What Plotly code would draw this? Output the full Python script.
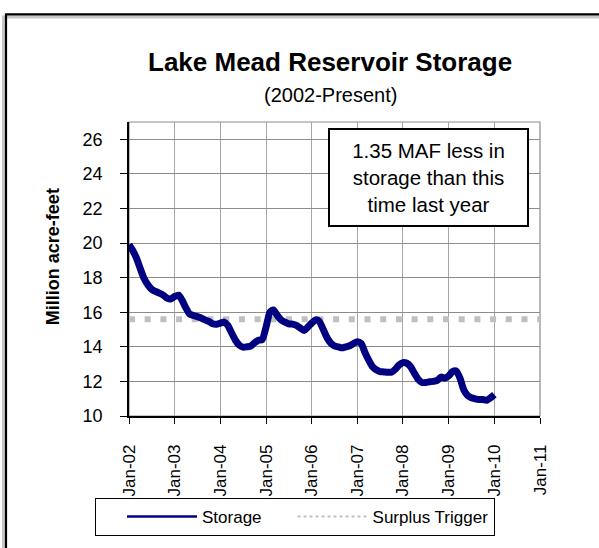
import plotly.graph_objects as go

# ---------------- data ----------------
years = [2002, 2003, 2004, 2005, 2006, 2007, 2008, 2009]
storage_2002 = [19.90, 19.56, 19.14, 18.53, 17.96, 17.58, 17.33, 17.20, 17.10, 16.99, 16.82, 16.76]
storage_2003 = [16.91, 16.99, 16.70, 16.25, 15.90, 15.81, 15.75, 15.67, 15.56, 15.47, 15.33, 15.30]
storage_2004 = [15.37, 15.43, 15.24, 14.80, 14.38, 14.10, 13.98, 14.00, 14.04, 14.23, 14.38, 14.42]
storage_2005 = [15.14, 16.00, 16.13, 15.81, 15.56, 15.43, 15.33, 15.31, 15.24, 15.09, 14.95, 15.14]
storage_2006 = [15.37, 15.56, 15.49, 15.05, 14.57, 14.23, 14.06, 14.00, 13.94, 14.00, 14.06, 14.19]
storage_2007 = [14.29, 14.19, 13.71, 13.24, 12.86, 12.67, 12.57, 12.55, 12.53, 12.53, 12.70, 12.95]
storage_2008 = [13.09, 13.05, 12.86, 12.48, 12.13, 11.94, 11.94, 11.98, 12.00, 12.06, 12.25, 12.19]
storage_2009 = [12.32, 12.57, 12.61, 12.19, 11.52, 11.18, 11.05, 10.99, 10.95, 10.95, 10.91, 11.05]
storage_2010 = [11.24]

yearly = [storage_2002, storage_2003, storage_2004, storage_2005,
          storage_2006, storage_2007, storage_2008, storage_2009]
storage_dates, storage_values = [], []
for yr, vals in zip(years, yearly):
    for m, v in enumerate(vals):
        storage_dates.append(f"{yr}-{m + 1:02d}-01")
        storage_values.append(v)
storage_dates.append("2010-01-01")
storage_values.extend(storage_2010)

trigger_dates = ["2002-01-01", "2011-01-01"]
trigger_values = [15.6, 15.6]

y_ticks = [10, 12, 14, 16, 18, 20, 22, 24, 26]

# ---------------- layout helpers (pixel -> paper) ----------------
W, H = 599, 548
L, R, T, B = 129, 59, 122, 128
PW, PH = W - L - R, H - T - B


def px(x):
    return (x - L) / PW


def py(y):
    return (H - B - y) / PH


FONT = "Liberation Sans, Arial, sans-serif"
NAVY = "#000080"
GRAY_DOT = "#C0C0C0"

fig = go.Figure()

fig.add_trace(go.Scatter(
    x=trigger_dates, y=trigger_values, mode="lines",
    line=dict(color=GRAY_DOT, width=6, dash="6px,9.7px"),
    showlegend=False, hoverinfo="skip"))

fig.add_trace(go.Scatter(
    x=storage_dates, y=storage_values, mode="lines",
    line=dict(color=NAVY, width=7, shape="spline", smoothing=0.6),
    showlegend=False))

# legend entries (thin samples as in the reference legend)
fig.add_trace(go.Scatter(x=[None], y=[None], mode="lines", name="Storage",
                         line=dict(color=NAVY, width=2.5)))
fig.add_trace(go.Scatter(x=[None], y=[None], mode="lines", name="Surplus Trigger",
                         line=dict(color=GRAY_DOT, width=2, dash="dot")))

fig.update_layout(
    width=W, height=H,
    margin=dict(l=L, r=R, t=T, b=B),
    paper_bgcolor="white", plot_bgcolor="white",
    font=dict(family=FONT, size=18, color="black"),
    showlegend=True,
    legend=dict(
        orientation="h", x=px(95), y=py(503), xanchor="left", yanchor="top",
        bordercolor="black", borderwidth=1, bgcolor="white",
        font=dict(family=FONT, size=17, color="black"),
        itemwidth=70, indentation=26,
    ),
    xaxis=dict(
        type="date", range=["2002-01-01", "2011-01-01"],
        tick0="2002-01-01", dtick="M12", tickformat="%b-%y",
        tickangle=-90, ticks="outside", ticklen=6, tickcolor="black",
        showgrid=True, gridcolor="#A6A6A6", gridwidth=1,
        showline=True, linecolor="black", linewidth=1.5,
        zeroline=False, fixedrange=True,
        tickfont=dict(family=FONT, size=17, color="black"),
        ticklabelstandoff=14,
    ),
    yaxis=dict(
        range=[10, 27], tickvals=y_ticks,
        ticks="outside", ticklen=7, tickcolor="black",
        showgrid=True, gridcolor="#8C8C8C", gridwidth=1,
        showline=True, linecolor="black", linewidth=1.5,
        zeroline=False, fixedrange=True,
        tickfont=dict(family=FONT, size=18, color="black"),
        ticklabelstandoff=14,
    ),
    shapes=[
        # outer chart frame (with soft shadow)
        dict(type="rect", xref="paper", yref="paper",
             x0=px(3.5), x1=px(640), y0=py(15.5), y1=py(600),
             line=dict(color="#C8C8C8", width=3), layer="below"),
        dict(type="rect", xref="paper", yref="paper",
             x0=px(6), x1=px(640), y0=py(13), y1=py(600),
             line=dict(color="black", width=2.2), layer="below"),
        # plot area border (top/right gray)
        dict(type="rect", xref="paper", yref="paper",
             x0=0, x1=1, y0=0, y1=1,
             line=dict(color="#8C8C8C", width=1.2), layer="below"),
    ],
    annotations=[
        dict(text="<b>Lake Mead Reservoir Storage</b>", xref="paper", yref="paper",
             x=px(330), y=py(61), xanchor="center", yanchor="middle",
             showarrow=False, font=dict(family=FONT, size=26, color="black")),
        dict(text="(2002-Present)", xref="paper", yref="paper",
             x=px(330), y=py(95), xanchor="center", yanchor="middle",
             showarrow=False, font=dict(family=FONT, size=20, color="black")),
        dict(text="<b>Million acre-feet</b>", xref="paper", yref="paper",
             x=px(53), y=py(259), xanchor="center", yanchor="middle",
             textangle=-90, showarrow=False,
             font=dict(family=FONT, size=18, color="black")),
        dict(text="1.35 MAF less in<br>storage than this<br>time last year",
             xref="paper", yref="paper",
             x=px(428.5), y=py(178.5), xanchor="center", yanchor="middle",
             showarrow=False, align="center", valign="middle",
             width=191, height=89, borderpad=3,
             bordercolor="black", borderwidth=2, bgcolor="white",
             font=dict(family=FONT, size=20.5, color="black")),
    ],
)

fig.write_html(
    "out.html",
    config={"displayModeBar": False},
    post_script="document.body.style.margin='0';document.body.style.overflow='hidden';",
)
